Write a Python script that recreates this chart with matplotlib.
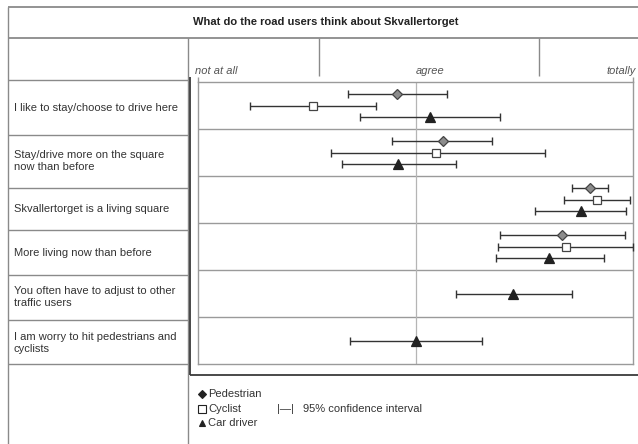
import numpy as np
import matplotlib
matplotlib.use("Agg")
import matplotlib.pyplot as plt
import matplotlib.transforms as mtransforms

plt.rcParams['font.family'] = ['Liberation Sans', 'DejaVu Sans']

title = "What do the road users think about Skvallertorget"
statements = [
    "I like to stay/choose to drive here",
    "Stay/drive more on the square\nnow than before",
    "Skvallertorget is a living square",
    "More living now than before",
    "You often have to adjust to other\ntraffic users",
    "I am worry to hit pedestrians and\ncyclists",
]
scale_labels = ["not at all", "agree", "totally"]
scale_values = [1, 3, 5]

nan = np.nan
ped_mean = [2.83, 3.25, 4.60, 4.35, nan, nan]
ped_lo = [2.38, 2.78, 4.44, 3.78, nan, nan]
ped_hi = [3.29, 3.70, 4.77, 4.93, nan, nan]
cyc_mean = [2.06, 3.19, 4.67, 4.38, nan, nan]
cyc_lo = [1.48, 2.22, 4.37, 3.76, nan, nan]
cyc_hi = [2.64, 4.19, 4.97, 5.00, nan, nan]
car_mean = [3.13, 2.84, 4.52, 4.23, 3.90, 3.00]
car_lo = [2.49, 2.32, 4.10, 3.74, 3.37, 2.40]
car_hi = [3.78, 3.37, 4.94, 4.73, 4.44, 3.61]

W, H = 638, 444
fig = plt.figure(figsize=(W / 100, H / 100), dpi=100)
fig.patch.set_facecolor('white')

FS = 8.0

# background axes in pixel coordinates for the table
bg = fig.add_axes([0, 0, 1, 1])
bg.set_xlim(0, W)
bg.set_ylim(H, 0)
bg.axis('off')

grid_c = '#8a8a8a'
dark_c = '#3a3a3a'
txt_c = '#333333'

def hline(y, x0, x1, c=grid_c, lw=1.0):
    bg.plot([x0, x1], [y, y], color=c, lw=lw, solid_capstyle='butt')

def vline(x, y0, y1, c=grid_c, lw=1.0):
    bg.plot([x, x], [y0, y1], color=c, lw=lw, solid_capstyle='butt')

# outer table
hline(7.5, 8, W, lw=1.3)
vline(8, 7.5, H)
hline(38, 8, W, lw=1.3)
vline(188, 38, H)
for y in [80, 135, 188, 230, 275, 320, 364]:
    hline(y, 8, 188)
# header dividers
vline(319, 38, 76)
vline(539, 38, 76)
# dark L-frame
vline(190, 77, 375, c=dark_c, lw=1.3)
hline(375, 190, W, c=dark_c, lw=1.3)
# end ticks above plot box
vline(198, 77, 82, c='#999999')
vline(633, 77, 82, c='#999999')

bg.text(326, 22, title, ha='center', va='center', fontsize=FS,
        fontweight='bold', color='#222222')

label_y = [108, 161, 209, 253, 297, 343]
for s, y in zip(statements, label_y):
    bg.text(14, y, s, ha='left', va='center', fontsize=FS, color=txt_c,
            linespacing=1.2)

# data axes
x0, x1 = 198, 633
y0, y1 = 82, 364
ax = fig.add_axes([x0 / W, (H - y1) / H, (x1 - x0) / W, (y1 - y0) / H])
ax.set_xlim(1, 5)
nrows = len(statements)
ax.set_ylim(nrows, 0)
ax.set_xticks([])
ax.set_yticks([])
for sp in ax.spines.values():
    sp.set_color('#9a9a9a')
    sp.set_linewidth(1.0)
for i in range(1, nrows):
    ax.axhline(i, color='#9a9a9a', lw=1.0)
ax.axvline(3, color='#b5b5b5', lw=0.9)

# scale labels above the plot
trans = mtransforms.blended_transform_factory(ax.transData, ax.transAxes)
for lab, v in zip(scale_labels, scale_values):
    ha = 'right' if v == 5 else 'left'
    dx = {1: -2, 3: 0, 5: 2}[v]
    ax.annotate(lab, xy=(v, 1), xycoords=trans, xytext=(dx, 4),
                textcoords='offset points', ha=ha, va='bottom',
                fontsize=FS, style='italic', color='#555555',
                annotation_clip=False)

ebar_c = '#333333'
off = 0.255

def draw(means, los, his, offsets, marker, mfc, ms, mec):
    for i, (m, lo, hi, o) in enumerate(zip(means, los, his, offsets)):
        if np.isnan(m):
            continue
        y = i + 0.5 + o
        ax.errorbar([m], [y], xerr=[[m - lo], [hi - m]], fmt='none',
                    ecolor=ebar_c, elinewidth=1.0, capsize=2.6,
                    capthick=1.0, clip_on=False, zorder=3)
        ax.plot([m], [y], marker=marker, ms=ms, mfc=mfc, mec=mec,
                mew=0.9, linestyle='none', clip_on=False, zorder=4)

ped_off = [-off] * nrows
cyc_off = [0.0] * nrows
car_off = [off if not np.isnan(p) else 0.0 for p in ped_mean]

draw(ped_mean, ped_lo, ped_hi, ped_off, 'D', '#8c8c8c', 5.0, '#444444')
draw(cyc_mean, cyc_lo, cyc_hi, cyc_off, 's', 'white', 6.0, '#444444')
draw(car_mean, car_lo, car_hi, car_off, '^', '#222222', 7.0, '#222222')

# legend
leg_items = [('D', '#222222', 'Pedestrian', 394, 4.0),
             ('s', 'white', 'Cyclist', 409, 6.0),
             ('^', '#222222', 'Car driver', 423, 5.0)]
for mk, fc, lab, y, ms in leg_items:
    bg.plot([202], [y], marker=mk, ms=ms, mfc=fc, mec='#222222', mew=0.8,
            linestyle='none')
    bg.text(208, y, lab, ha='left', va='center', fontsize=FS, color=txt_c)
bg.text(277, 409, "|—|", ha='left', va='center', fontsize=FS, color=txt_c)
bg.text(303, 409, "95% confidence interval", ha='left', va='center',
        fontsize=FS, color=txt_c)

fig.savefig('out.png', dpi=100, facecolor='white')
